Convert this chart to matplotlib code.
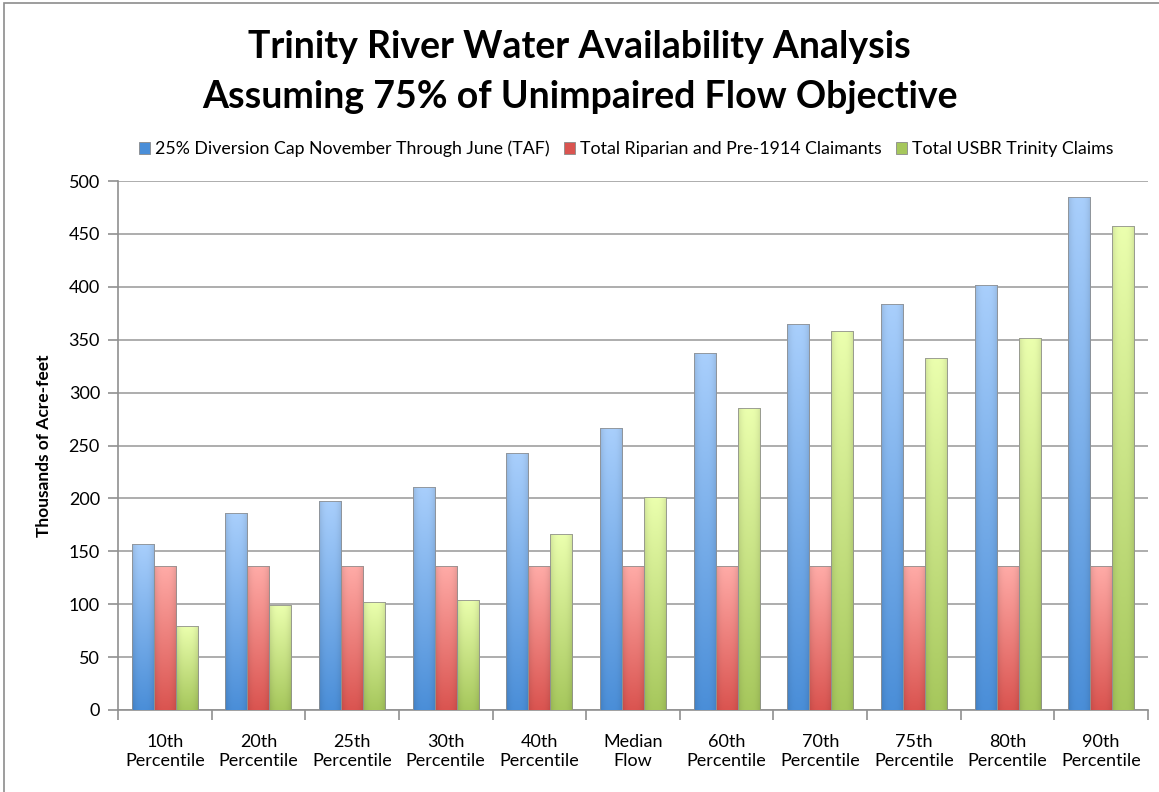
import numpy as np
import matplotlib.pyplot as plt
from matplotlib.colors import to_rgb
from matplotlib.patches import Rectangle

# Data
categories = ['10th\nPercentile', '20th\nPercentile', '25th\nPercentile', '30th\nPercentile',
              '40th\nPercentile', 'Median\nFlow', '60th\nPercentile', '70th\nPercentile',
              '75th\nPercentile', '80th\nPercentile', '90th\nPercentile']
diversion_cap = [157, 186, 198, 211, 243, 267, 337, 365, 384, 402, 485]
riparian = [136, 136, 136, 136, 136, 136, 136, 136, 136, 136, 136]
usbr = [79, 99, 102, 104, 166, 201, 285, 358, 333, 352, 457]

series = [
    ('25% Diversion Cap November Through June (TAF)', diversion_cap, '#a9cffc', '#4a8ed8'),
    ('Total Riparian and Pre-1914 Claimants', riparian, '#ffaba7', '#da5450'),
    ('Total USBR Trinity Claims', usbr, '#ebffae', '#a6c75c'),
]

plt.rcParams['font.family'] = ['Lato', 'DejaVu Sans']

fig = plt.figure(figsize=(11.59, 7.92), dpi=100)
ax = fig.add_axes([118 / 1159, 1 - 710 / 792, 1030 / 1159, 529 / 792])

x = np.arange(len(categories))
w = 0.235


def shade(bar, c_top, c_bot):
    x0, y0 = bar.get_xy()
    bw, bh = bar.get_width(), bar.get_height()
    v = np.linspace(0, 1, 200)[:, None, None]
    u = np.linspace(-1, 1, 40)[None, :, None]
    top, bot = np.array(to_rgb(c_top)), np.array(to_rgb(c_bot))
    rgb = bot + (top - bot) * v
    rgb = rgb * (1 - 0.12 * np.abs(u) ** 3)
    im = ax.imshow(np.clip(rgb, 0, 1), extent=[x0, x0 + bw, y0, y0 + bh], origin='lower',
                   aspect='auto', zorder=3, interpolation='bilinear')
    im.set_clip_path(bar)


handles = []
for i, (name, vals, c_top, c_bot) in enumerate(series):
    bars = ax.bar(x + (i - 1) * w, vals, w, color=c_bot, edgecolor='#8a8a8a', linewidth=0.6,
                  zorder=3, label=name)
    for b in bars:
        shade(b, c_top, c_bot)
        ax.add_patch(Rectangle(b.get_xy(), b.get_width(), b.get_height(), fill=False,
                               edgecolor='#909090', linewidth=0.6, zorder=4))
    handles.append(bars)

ax.set_xlim(-0.5, len(categories) - 0.5)
ax.set_ylim(0, 500)
ax.set_yticks(np.arange(0, 501, 50))
ax.yaxis.grid(True, color='#a0a0a0', linewidth=1.2, zorder=0)
ax.set_axisbelow(True)

ax.set_xticks(x)
ax.set_xticklabels(categories, fontsize=13, linespacing=1.25)
ax.set_xticks(np.arange(-0.5, len(categories), 1), minor=True)
ax.tick_params(axis='x', which='major', length=0, pad=17)
ax.tick_params(axis='x', which='minor', length=7, color='#909090', width=1.2, direction='out')
ax.tick_params(axis='y', length=7, color='#909090', width=1.2, labelsize=13, pad=6)

for s in ['top', 'right']:
    ax.spines[s].set_visible(False)
for s in ['left', 'bottom']:
    ax.spines[s].set_color('#909090')
    ax.spines[s].set_linewidth(1.2)

ax.set_ylabel('Thousands of Acre-feet', fontsize=12.5, fontweight='bold', labelpad=12)

fig.text(0.5, 1 - 47 / 792, 'Trinity River Water Availability Analysis', ha='center', va='center',
         fontsize=27, fontweight='bold')
fig.text(0.5, 1 - 97 / 792, 'Assuming 75% of Unimpaired Flow Objective', ha='center', va='center',
         fontsize=27, fontweight='bold')

leg = fig.legend(handles=handles, loc='center', bbox_to_anchor=(0.54, 1 - 149 / 792), ncol=3,
                 frameon=False, fontsize=12.8, handlelength=0.65, handleheight=0.65,
                 handletextpad=0.25, columnspacing=0.8)

fig.patches.append(Rectangle((4 / 1159, -0.05), 1.1, 1 - 3 / 792 + 0.05, transform=fig.transFigure,
                             fill=False, edgecolor='#8c8c8c', linewidth=1.2))

fig.savefig('out.png', dpi=100)
